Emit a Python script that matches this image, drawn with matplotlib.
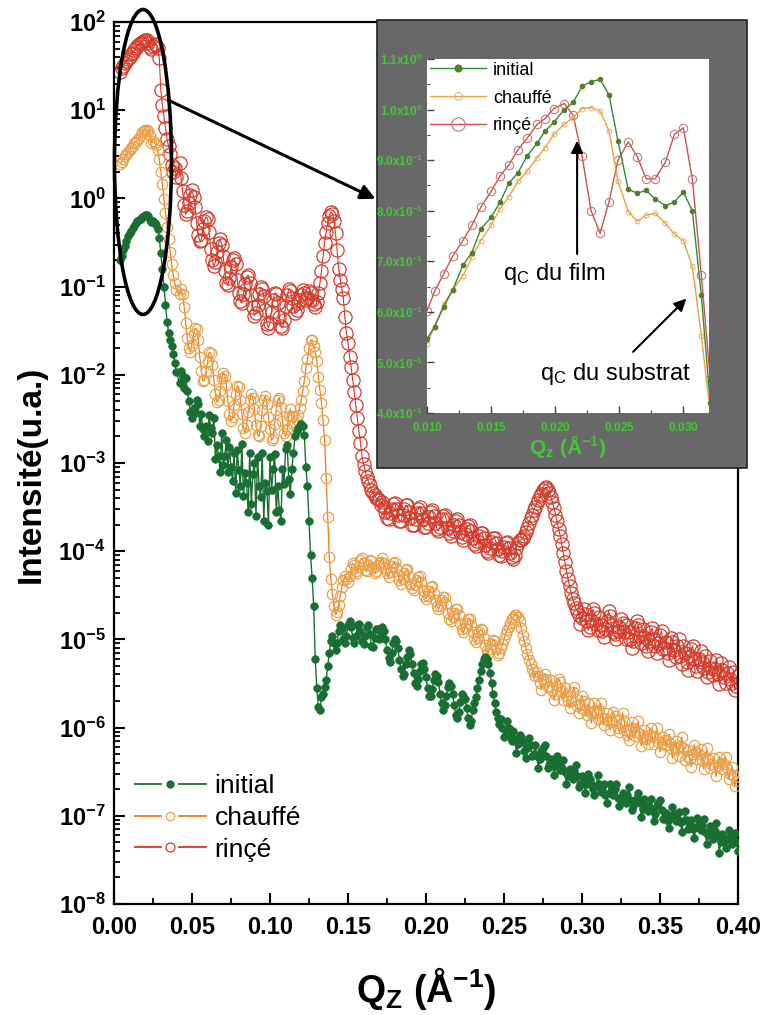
import numpy as np
import matplotlib
matplotlib.use("Agg")
import matplotlib.pyplot as plt
from matplotlib.patches import Ellipse, Rectangle, FancyArrowPatch
from matplotlib.lines import Line2D
from matplotlib.legend_handler import HandlerBase
from matplotlib.ticker import FixedLocator, FuncFormatter, MultipleLocator, LogLocator, NullFormatter

plt.rcParams['font.family'] = ['Liberation Sans', 'DejaVu Sans']
plt.rcParams['mathtext.fontset'] = 'custom'
plt.rcParams['mathtext.rm'] = 'Liberation Sans'
plt.rcParams['mathtext.bf'] = 'Liberation Sans:bold'
plt.rcParams['mathtext.it'] = 'Liberation Sans:italic'

# ---------------- main data (coarse grid) ----------------
qz = [0.004, 0.005, 0.006, 0.007, 0.008, 0.009, 0.010, 0.011, 0.012, 0.013, 0.014, 0.015, 0.016,
      0.017, 0.018, 0.019, 0.020, 0.021, 0.022, 0.023, 0.024, 0.025, 0.026, 0.027, 0.028, 0.029,
      0.030, 0.031, 0.032, 0.033, 0.034, 0.035, 0.036, 0.037, 0.038, 0.039, 0.040,
      0.042, 0.044, 0.046, 0.048, 0.050, 0.052, 0.054, 0.056, 0.058, 0.060, 0.062, 0.064, 0.066,
      0.068, 0.070, 0.072, 0.074, 0.076, 0.078, 0.080, 0.082, 0.084, 0.086, 0.088, 0.090, 0.092,
      0.094, 0.096, 0.098, 0.100, 0.102, 0.104, 0.106, 0.108, 0.110, 0.112, 0.114, 0.116, 0.118,
      0.119, 0.120, 0.121, 0.122, 0.123, 0.124, 0.125, 0.126, 0.127, 0.128, 0.129, 0.130, 0.131,
      0.132, 0.133, 0.134, 0.135, 0.136, 0.137, 0.138, 0.139, 0.140, 0.141, 0.142, 0.143, 0.144,
      0.145, 0.146, 0.147, 0.148, 0.149, 0.150, 0.151, 0.152, 0.153, 0.154, 0.155, 0.156, 0.157,
      0.158, 0.159, 0.160, 0.161, 0.162, 0.163, 0.164, 0.165, 0.166, 0.167, 0.168, 0.169, 0.170,
      0.172, 0.174, 0.176, 0.178, 0.180, 0.182, 0.184, 0.186, 0.188, 0.190, 0.192, 0.194, 0.196,
      0.198, 0.200, 0.202, 0.204, 0.206, 0.208, 0.210, 0.212, 0.214, 0.216, 0.218, 0.220, 0.222,
      0.224, 0.226, 0.228, 0.230, 0.232, 0.234, 0.236, 0.238, 0.240, 0.242, 0.244, 0.246, 0.248,
      0.250, 0.252, 0.254, 0.256, 0.258, 0.260, 0.262, 0.264, 0.266, 0.268, 0.270, 0.272, 0.274,
      0.276, 0.278, 0.280, 0.282, 0.284, 0.286, 0.288, 0.290, 0.292, 0.294, 0.296, 0.298, 0.300,
      0.302, 0.304, 0.306, 0.308, 0.310, 0.312, 0.314, 0.316, 0.318, 0.320, 0.322, 0.324, 0.326,
      0.328, 0.330, 0.332, 0.334, 0.336, 0.338, 0.340, 0.342, 0.344, 0.346, 0.348, 0.350, 0.352,
      0.354, 0.356, 0.358, 0.360, 0.362, 0.364, 0.366, 0.368, 0.370, 0.372, 0.374, 0.376, 0.378,
      0.380, 0.382, 0.384, 0.386, 0.388, 0.390, 0.392, 0.394, 0.396, 0.398, 0.400]

rince = [27, 30, 32, 34, 36, 38, 40, 43, 45, 48, 51, 54, 56, 58, 60, 61, 62, 62, 58, 52, 50, 54,
         57, 55, 51, 39, 17, 11.5, 8.5, 6.3, 4.7, 3.9, 3.2, 2.4, 2.0, 2.2, 1.75,
         2.5, 1.2, 0.66, 0.89, 1.25, 0.80, 0.38, 0.34, 0.56, 0.59, 0.27, 0.17, 0.25, 0.35, 0.22,
         0.11, 0.124, 0.20, 0.18, 0.084, 0.065, 0.106, 0.135, 0.080, 0.047, 0.062, 0.098, 0.078,
         0.038, 0.039, 0.070, 0.082, 0.045, 0.034, 0.060, 0.094, 0.075, 0.050, 0.066,
         0.071, 0.080, 0.092, 0.084, 0.071, 0.075, 0.088, 0.084, 0.071, 0.063, 0.059, 0.067, 0.084,
         0.11, 0.15, 0.22, 0.31, 0.42, 0.53, 0.63, 0.70, 0.67, 0.56, 0.40, 0.26, 0.16,
         0.12, 0.095, 0.075, 0.045, 0.030, 0.023, 0.016, 0.0123, 0.0087, 0.0063, 0.0045, 0.0032,
         0.0023, 0.0017, 0.0012, 9.7e-4, 8.2e-4, 6.9e-4, 6.2e-4, 5.6e-4, 5.0e-4, 4.6e-4, 4.3e-4,
         4.0e-4, 3.9e-4, 3.8e-4,
         3.6e-4, 2.8e-4, 2.3e-4, 3.0e-4, 3.5e-4, 2.6e-4, 2.2e-4, 3.0e-4, 3.3e-4, 2.4e-4, 2.0e-4,
         2.7e-4, 3.2e-4, 2.3e-4, 1.9e-4, 2.45e-4, 2.9e-4, 2.1e-4, 1.7e-4, 2.3e-4, 2.6e-4, 1.85e-4,
         1.5e-4, 2.0e-4, 2.3e-4, 1.65e-4, 1.35e-4, 1.8e-4, 2.0e-4, 1.4e-4, 1.15e-4, 1.5e-4, 1.6e-4,
         1.17e-4, 9.5e-5, 1.27e-4, 1.4e-4, 1.05e-4, 8.8e-5, 1.13e-4, 1.27e-4, 9.5e-5, 8.1e-5,
         1.09e-4, 1.33e-4, 1.4e-4, 1.65e-4, 2.1e-4, 2.6e-4, 3.2e-4, 3.8e-4, 4.5e-4, 5.2e-4, 5.0e-4,
         4.1e-4, 3.1e-4, 2.2e-4, 1.5e-4, 9.5e-5, 6.0e-5, 4.0e-5, 2.9e-5, 2.25e-5, 1.9e-5, 1.75e-5,
         1.95e-5, 1.27e-5, 1.65e-5, 2.0e-5, 1.27e-5, 1.47e-5, 1.07e-5, 1.6e-5, 1.85e-5, 1.2e-5,
         1.0e-5, 1.4e-5, 1.55e-5, 1.0e-5, 1.2e-5, 8.0e-6, 1.33e-5, 1.47e-5, 9.0e-6, 1.07e-5, 7.3e-6,
         1.2e-5, 1.0e-5, 7.1e-6, 1.13e-5, 7.8e-6, 9.3e-6, 5.8e-6, 9.3e-6, 6.3e-6, 1.0e-5, 5.2e-6,
         7.1e-6, 4.5e-6, 7.7e-6, 6.0e-6, 4.4e-6, 7.3e-6, 4.7e-6, 3.7e-6, 5.7e-6, 3.9e-6, 5.9e-6,
         3.1e-6, 4.5e-6, 3.2e-6, 4.9e-6, 3.2e-6, 2.7e-6, 3.8e-6]

chauffe = [2.45, 2.6, 2.8, 3.0, 3.15, 3.35, 3.5, 3.7, 3.9, 4.2, 4.35, 4.6, 4.9, 5.2, 5.6, 5.8, 6.0,
           6.0, 5.8, 5.2, 4.3, 4.45, 4.3, 4.0, 3.5, 2.8, 2.0, 1.45, 0.98, 0.69, 0.47, 0.35, 0.25,
           0.18, 0.135, 0.11, 0.092,
           0.083, 0.083, 0.039, 0.020, 0.022, 0.034, 0.025, 0.011, 0.0087, 0.0143, 0.0175, 0.0088,
           0.0049, 0.0065, 0.0106, 0.0077, 0.0036, 0.0033, 0.0061, 0.0072, 0.0036, 0.0022, 0.0038,
           0.0061, 0.0041, 0.0021, 0.0026, 0.0052, 0.0047, 0.0024, 0.0019, 0.0040, 0.0055, 0.0030,
           0.0020, 0.0034, 0.0034, 0.0029, 0.0035,
           0.0042, 0.0052, 0.0066, 0.0086, 0.012, 0.015, 0.020, 0.025, 0.0245, 0.021, 0.018, 0.0145,
           0.0095, 0.0067, 0.0048, 0.0031, 0.0018, 6.7e-4, 2.45e-4, 8.5e-5, 4.8e-5, 3.3e-5, 2.4e-5,
           1.9e-5, 2.05e-5, 2.45e-5, 3.1e-5, 3.9e-5, 4.7e-5, 5.2e-5, 4.9e-5, 4.5e-5, 5.2e-5, 6.3e-5,
           7.3e-5, 7.0e-5, 5.9e-5, 5.6e-5, 6.6e-5, 8.0e-5, 8.4e-5, 7.3e-5, 6.1e-5, 5.9e-5, 7.0e-5,
           8.0e-5, 7.7e-5, 6.4e-5, 5.6e-5, 6.0e-5, 7.0e-5, 7.3e-5,
           8.3e-5, 6.4e-5, 5.1e-5, 6.8e-5, 7.6e-5, 5.4e-5, 4.3e-5, 5.7e-5, 6.3e-5, 4.3e-5, 3.6e-5,
           4.7e-5, 5.2e-5, 3.6e-5, 2.9e-5, 3.5e-5, 4.0e-5, 2.8e-5, 2.2e-5, 2.8e-5, 3.0e-5, 2.0e-5,
           1.6e-5, 2.0e-5, 2.2e-5, 1.55e-5, 1.2e-5, 1.55e-5, 1.7e-5, 1.2e-5, 9.3e-6, 1.2e-5, 1.27e-5,
           8.6e-6, 7.0e-6, 8.9e-6, 9.6e-6, 6.6e-6, 7.9e-6, 1.0e-5, 1.27e-5, 1.55e-5, 1.8e-5, 1.9e-5,
           1.6e-5, 1.13e-5, 8.0e-6, 5.9e-6, 4.6e-6, 3.8e-6, 3.85e-6, 2.7e-6, 4.1e-6, 2.85e-6, 3.5e-6,
           2.05e-6, 2.95e-6, 3.3e-6, 2.05e-6, 2.3e-6, 1.65e-6, 2.55e-6, 2.1e-6, 1.45e-6, 2.3e-6,
           1.6e-6, 1.9e-6, 1.13e-6, 1.9e-6, 1.26e-6, 1.9e-6, 1.07e-6, 1.45e-6, 9.4e-7, 1.5e-6,
           1.22e-6, 8.8e-7, 1.47e-6, 9.4e-7, 7.3e-7, 1.15e-6, 8.1e-7, 1.18e-6, 6.2e-7, 9.3e-7, 6.5e-7,
           9.9e-7, 6.6e-7, 9.9e-7, 5.3e-7, 7.8e-7, 6.3e-7, 8.4e-7, 4.5e-7, 7.1e-7, 4.8e-7, 7.8e-7,
           4.3e-7, 5.6e-7, 3.6e-7, 6.4e-7, 4.4e-7, 5.7e-7, 3.4e-7, 5.8e-7, 3.5e-7, 4.5e-7, 2.8e-7,
           4.7e-7, 3.4e-7, 4.7e-7, 2.6e-7, 3.6e-7, 2.2e-7, 2.8e-7]

initial = [0.20, 0.22, 0.26, 0.29, 0.33, 0.37, 0.40, 0.43, 0.46, 0.49, 0.52, 0.55, 0.57, 0.59,
           0.61, 0.63, 0.64, 0.65, 0.63, 0.57, 0.54, 0.56, 0.53, 0.50, 0.45, 0.36, 0.24, 0.16,
           0.10, 0.062, 0.040, 0.030, 0.025, 0.021, 0.017, 0.0135, 0.0108,
           8.0e-3, 9.8e-3, 9.3e-3, 5.0e-3, 3.2e-3, 3.7e-3, 4.7e-3, 3.6e-3, 2.0e-3, 1.76e-3, 2.5e-3,
           3.2e-3, 1.6e-3, 7.9e-4, 9.4e-4, 1.8e-3, 1.5e-3, 6.3e-4, 4.6e-4, 8.3e-4, 1.66e-3, 7.7e-4,
           2.75e-4, 3.4e-4, 1.0e-3, 1.18e-3, 4.1e-4, 2.2e-4, 4.8e-4, 1.18e-3, 8.5e-4, 2.8e-4, 2.9e-4,
           8.5e-4, 1.45e-3, 6.6e-4, 8.5e-4, 2.0e-3, 2.5e-3,
           2.7e-3, 2.8e-3, 2.6e-3, 2.1e-3, 9.0e-4, 5.5e-4, 2.2e-4, 9.0e-5, 5.0e-5, 2.4e-5, 6.0e-6,
           2.8e-6, 1.7e-6, 1.6e-6, 2.2e-6, 2.4e-6, 2.9e-6, 3.5e-6, 5.0e-6, 7.0e-6, 9.5e-6, 1.1e-5,
           9.0e-6, 7.5e-6, 9.0e-6, 1.25e-5, 1.45e-5, 1.3e-5, 1.0e-5, 9.0e-6, 1.1e-5, 1.45e-5, 1.6e-5,
           1.4e-5, 1.05e-5, 9.0e-6, 1.1e-5, 1.45e-5, 1.5e-5, 1.25e-5, 9.5e-6, 8.8e-6, 1.1e-5, 1.4e-5,
           1.45e-5, 1.15e-5, 8.5e-6, 8.3e-6, 1.05e-5, 1.3e-5, 1.3e-5, 1.0e-5,
           1.38e-5, 1.0e-5, 6.2e-6, 7.1e-6, 1.0e-5, 7.9e-6, 4.6e-6, 4.1e-6, 6.3e-6, 6.9e-6, 4.2e-6,
           3.0e-6, 4.4e-6, 5.4e-6, 3.7e-6, 2.3e-6, 2.75e-6, 4.1e-6, 3.3e-6, 1.9e-6, 1.8e-6, 2.9e-6,
           3.0e-6, 1.8e-6, 1.3e-6, 1.95e-6, 2.3e-6, 1.66e-6, 1.07e-6, 1.6e-6, 2.2e-6, 3.5e-6, 5.2e-6,
           6.3e-6, 5.2e-6, 3.2e-6, 1.9e-6, 1.3e-6, 1.26e-6, 7.9e-7, 1.2e-6, 7.8e-7, 9.1e-7, 5.2e-7,
           8.3e-7, 6.8e-7, 4.5e-7, 7.6e-7, 4.8e-7, 6.3e-7, 3.5e-7, 5.5e-7, 6.3e-7, 3.5e-7, 4.4e-7,
           2.9e-7, 4.8e-7, 3.3e-7, 4.3e-7, 2.3e-7, 3.4e-7, 2.6e-7, 3.8e-7, 2.1e-7, 2.8e-7, 1.8e-7,
           3.0e-7, 2.3e-7, 1.74e-7, 2.9e-7, 1.86e-7, 2.3e-7, 1.38e-7, 2.3e-7, 1.74e-7, 2.3e-7, 1.29e-7,
           1.8e-7, 1.38e-7, 2.1e-7, 1.17e-7, 1.5e-7, 1.8e-7, 9.8e-8, 1.55e-7, 1.12e-7, 1.55e-7, 8.7e-8,
           1.29e-7, 1.5e-7, 9.1e-8, 1.07e-7, 7.2e-8, 1.26e-7, 8.7e-8, 1.1e-7, 6.6e-8, 1.12e-7, 7.1e-8,
           8.9e-8, 5.6e-8, 9.5e-8, 6.9e-8, 9.1e-8, 4.8e-8, 7.6e-8, 5.5e-8, 8.3e-8, 3.8e-8, 6.2e-8,
           4.3e-8, 6.9e-8, 4.8e-8, 6.3e-8, 4.0e-8]

# ---------------- extra (in-between) points of the noisy stretches ----------------
qz_mid = [0.043, 0.045, 0.047, 0.049, 0.051, 0.053, 0.055, 0.057, 0.059, 0.061, 0.063, 0.065,
          0.067, 0.069, 0.071, 0.073, 0.075, 0.077, 0.079, 0.081, 0.083, 0.085, 0.087, 0.089,
          0.091, 0.093, 0.095, 0.097, 0.099, 0.101, 0.103, 0.105, 0.107, 0.109, 0.111, 0.113,
          0.115, 0.117,
          0.171, 0.173, 0.175, 0.177, 0.179, 0.181, 0.183, 0.185, 0.187, 0.189, 0.191, 0.193,
          0.195, 0.197, 0.199, 0.201, 0.203, 0.205, 0.207, 0.209, 0.211, 0.213, 0.215, 0.217,
          0.219, 0.221, 0.223, 0.225, 0.227, 0.229, 0.231, 0.233, 0.235, 0.237, 0.239, 0.241,
          0.243, 0.245, 0.247, 0.249, 0.251, 0.253, 0.255, 0.257, 0.259, 0.261, 0.263, 0.265,
          0.267, 0.269, 0.271, 0.273, 0.275, 0.277, 0.279, 0.281, 0.283, 0.285, 0.287, 0.289,
          0.291, 0.293, 0.295, 0.297, 0.299, 0.301, 0.303, 0.305, 0.307, 0.309, 0.311, 0.313,
          0.315, 0.317, 0.319, 0.321, 0.323, 0.325, 0.327, 0.329, 0.331, 0.333, 0.335, 0.337,
          0.339, 0.341, 0.343, 0.345, 0.347, 0.349, 0.351, 0.353, 0.355, 0.357, 0.359, 0.361,
          0.363, 0.365, 0.367, 0.369, 0.371, 0.373, 0.375, 0.377, 0.379, 0.381, 0.383, 0.385,
          0.387, 0.389, 0.391, 0.393, 0.395, 0.397, 0.399]

rince_mid = [1.7, 0.85, 0.72, 1.1, 1.05, 0.52, 0.33, 0.45, 0.62, 0.42, 0.20, 0.19, 0.31, 0.30,
             0.15, 0.105, 0.165, 0.21, 0.12, 0.068, 0.082, 0.13, 0.11, 0.058, 0.050, 0.082, 0.095,
             0.055, 0.034, 0.052, 0.085, 0.065, 0.036, 0.042, 0.080, 0.090, 0.060, 0.055,
             3.3e-4, 3.2e-4, 2.4e-4, 2.7e-4, 3.4e-4, 3.0e-4, 2.2e-4, 2.6e-4, 3.3e-4, 2.8e-4,
             2.0e-4, 2.3e-4, 3.0e-4, 2.7e-4, 1.9e-4, 2.1e-4, 2.8e-4, 2.5e-4, 1.8e-4, 1.9e-4,
             2.5e-4, 2.3e-4, 1.6e-4, 1.7e-4, 2.2e-4, 2.0e-4, 1.45e-4, 1.55e-4, 1.95e-4, 1.7e-4,
             1.2e-4, 1.3e-4, 1.6e-4, 1.4e-4, 1.0e-4, 1.1e-4, 1.4e-4, 1.25e-4, 9.0e-5, 1.0e-4,
             1.25e-4, 1.1e-4, 8.5e-5, 9.0e-5, 1.25e-4, 1.35e-4, 1.5e-4, 1.85e-4, 2.35e-4, 2.9e-4,
             3.5e-4, 4.2e-4, 4.9e-4, 5.3e-4, 4.6e-4, 3.6e-4, 2.6e-4, 1.8e-4, 1.2e-4, 7.5e-5,
             4.9e-5, 3.4e-5, 2.6e-5, 2.1e-5, 1.5e-5, 2.2e-5, 1.6e-5, 1.4e-5, 2.2e-5, 1.5e-5,
             1.8e-5, 1.25e-5, 1.3e-5, 2.1e-5, 1.45e-5, 1.15e-5, 1.25e-5, 1.7e-5, 1.2e-5, 1.45e-5,
             1.0e-5, 9.5e-6, 1.6e-5, 1.1e-5, 1.3e-5, 8.5e-6, 9.5e-6, 1.35e-5, 8.5e-6, 9.0e-6,
             1.25e-5, 8.0e-6, 7.0e-6, 1.05e-5, 7.5e-6, 8.5e-6, 6.5e-6, 8.5e-6, 5.5e-6, 6.5e-6,
             8.5e-6, 5.0e-6, 6.0e-6, 5.5e-6, 6.5e-6, 4.3e-6, 4.8e-6, 4.6e-6, 4.0e-6, 5.4e-6,
             3.7e-6, 4.2e-6, 3.6e-6, 4.3e-6, 3.0e-6]

chauffe_mid = [0.095, 0.058, 0.026, 0.018, 0.029, 0.033, 0.016, 0.0085, 0.011, 0.018, 0.013,
               0.0060, 0.0052, 0.0092, 0.0098, 0.0050, 0.0030, 0.0046, 0.0075, 0.0052, 0.0025,
               0.0027, 0.0052, 0.0055, 0.0027, 0.0020, 0.0040, 0.0058, 0.0033, 0.0018, 0.0028,
               0.0052, 0.0043, 0.0022, 0.0024, 0.0041, 0.0028, 0.0031,
               7.6e-5, 7.4e-5, 5.6e-5, 5.8e-5, 7.3e-5, 6.5e-5, 4.7e-5, 4.9e-5, 6.1e-5, 5.3e-5,
               3.8e-5, 4.1e-5, 5.1e-5, 4.5e-5, 3.1e-5, 3.1e-5, 3.9e-5, 3.4e-5, 2.4e-5, 2.4e-5,
               3.0e-5, 2.5e-5, 1.7e-5, 1.8e-5, 2.2e-5, 1.9e-5, 1.3e-5, 1.35e-5, 1.7e-5, 1.45e-5,
               1.0e-5, 1.05e-5, 1.3e-5, 1.05e-5, 7.5e-6, 7.8e-6, 9.8e-6, 8.0e-6, 7.0e-6, 8.8e-6,
               1.15e-5, 1.4e-5, 1.7e-5, 1.9e-5, 1.8e-5, 1.35e-5, 9.5e-6, 6.8e-6, 5.2e-6, 4.3e-6,
               4.3e-6, 3.2e-6, 3.6e-6, 3.6e-6, 3.0e-6, 2.7e-6, 2.4e-6, 3.6e-6, 2.6e-6, 2.8e-6,
               2.0e-6, 2.0e-6, 2.9e-6, 1.75e-6, 1.8e-6, 2.0e-6, 1.4e-6, 1.5e-6, 1.5e-6, 1.45e-6,
               1.6e-6, 1.3e-6, 1.25e-6, 1.2e-6, 1.15e-6, 1.35e-6, 1.0e-6, 1.1e-6, 1.2e-6, 8.2e-7,
               9.5e-7, 9.8e-7, 9.0e-7, 8.5e-7, 8.0e-7, 7.5e-7, 8.2e-7, 8.0e-7, 7.8e-7, 6.8e-7,
               6.5e-7, 7.2e-7, 7.0e-7, 5.8e-7, 6.0e-7, 5.8e-7, 6.2e-7, 5.8e-7, 4.8e-7, 4.4e-7,
               5.0e-7, 5.3e-7, 5.0e-7, 4.3e-7, 4.5e-7, 4.4e-7, 3.9e-7, 3.6e-7, 3.7e-7, 4.0e-7,
               3.9e-7, 3.5e-7, 3.0e-7, 2.9e-7, 2.5e-7]

initial_mid = [1.1e-2, 7.0e-3, 6.5e-3, 3.8e-3, 4.2e-3, 5.2e-3, 2.6e-3, 2.4e-3, 2.6e-3, 3.5e-3,
               2.2e-3, 1.1e-3, 1.2e-3, 2.2e-3, 1.2e-3, 8.0e-4, 9.0e-4, 1.3e-3, 1.4e-3, 5.5e-4,
               4.2e-4, 6.0e-4, 1.3e-3, 7.5e-4, 2.5e-4, 5.5e-4, 1.3e-3, 6.0e-4, 2.0e-4, 5.0e-4,
               1.25e-3, 5.5e-4, 2.2e-4, 5.8e-4, 1.6e-3, 4.5e-4, 1.3e-3, 2.3e-3,
               1.1e-5, 1.25e-5, 7.5e-6, 5.5e-6, 9.0e-6, 9.5e-6, 5.8e-6, 3.8e-6, 5.2e-6, 7.5e-6,
               5.2e-6, 3.2e-6, 3.6e-6, 5.2e-6, 4.6e-6, 2.8e-6, 2.3e-6, 3.5e-6, 3.8e-6, 2.4e-6,
               1.6e-6, 2.3e-6, 3.2e-6, 2.4e-6, 1.4e-6, 1.5e-6, 2.4e-6, 2.1e-6, 1.3e-6, 1.2e-6,
               1.9e-6, 2.8e-6, 4.4e-6, 6.0e-6, 6.0e-6, 4.2e-6, 2.4e-6, 1.5e-6, 1.1e-6, 1.0e-6,
               9.5e-7, 1.0e-6, 7.0e-7, 7.5e-7, 6.5e-7, 7.8e-7, 5.5e-7, 5.8e-7, 6.3e-7, 5.0e-7,
               4.8e-7, 4.4e-7, 5.8e-7, 4.8e-7, 3.8e-7, 3.8e-7, 3.7e-7, 4.2e-7, 3.5e-7, 3.1e-7,
               2.8e-7, 2.9e-7, 3.2e-7, 2.8e-7, 2.3e-7, 2.4e-7, 2.3e-7, 2.6e-7, 2.0e-7, 2.2e-7,
               2.3e-7, 2.0e-7, 1.7e-7, 1.8e-7, 2.0e-7, 2.0e-7, 1.6e-7, 1.5e-7, 1.6e-7, 1.7e-7,
               1.5e-7, 1.3e-7, 1.6e-7, 1.4e-7, 1.2e-7, 1.3e-7, 1.3e-7, 1.15e-7, 1.05e-7, 1.4e-7,
               1.15e-7, 9.8e-8, 8.8e-8, 1.0e-7, 1.05e-7, 9.5e-8, 8.5e-8, 8.8e-8, 9.0e-8, 7.8e-8,
               7.0e-8, 7.5e-8, 8.0e-8, 7.8e-8, 6.5e-8, 6.0e-8, 6.5e-8, 6.8e-8, 6.0e-8, 5.0e-8,
               5.2e-8, 5.5e-8, 5.8e-8, 5.5e-8, 5.0e-8]

for name, arr, ref in (("rince", rince, qz), ("chauffe", chauffe, qz), ("initial", initial, qz),
                       ("rince_mid", rince_mid, qz_mid), ("chauffe_mid", chauffe_mid, qz_mid),
                       ("initial_mid", initial_mid, qz_mid)):
    if len(arr) != len(ref):
        raise ValueError(f"{name}: {len(arr)} values vs {len(ref)} positions")

# ---------------- inset data ----------------
qz_inset = [0.0100, 0.0106, 0.0113, 0.0120, 0.0128, 0.0135, 0.0142, 0.0150, 0.0157, 0.0164,
            0.0171, 0.0178, 0.0186, 0.0192, 0.0199, 0.0207, 0.0214, 0.0221, 0.0228, 0.0235,
            0.0242, 0.0249, 0.0257, 0.0264, 0.0271, 0.0278, 0.0286, 0.0293, 0.0300, 0.0307,
            0.0314, 0.0321]
initial_inset = [0.547, 0.571, 0.610, 0.643, 0.692, 0.717, 0.764, 0.787, 0.817, 0.855, 0.875,
                 0.908, 0.934, 0.957, 0.975, 1.000, 1.014, 1.046, 1.055, 1.060, 1.029, 0.938,
                 0.842, 0.835, 0.840, 0.823, 0.810, 0.817, 0.837, 0.800, 0.633, 0.419]
chauffe_inset = [0.537, 0.571, 0.615, 0.643, 0.671, 0.708, 0.741, 0.771, 0.804, 0.828, 0.858,
                 0.878, 0.905, 0.924, 0.951, 0.971, 0.984, 1.002, 1.004, 0.997, 0.958, 0.858,
                 0.798, 0.779, 0.791, 0.795, 0.775, 0.754, 0.741, 0.690, 0.553, 0.400]
rince_inset = [0.602, 0.641, 0.675, 0.710, 0.741, 0.771, 0.807, 0.838, 0.869, 0.891, 0.921,
               0.943, 0.971, 0.982, 1.002, 1.012, 0.989, 0.908, 0.800, 0.755, 0.818, 0.900,
               0.936, 0.907, 0.863, 0.863, 0.896, 0.951, 0.964, 0.863, 0.673, 0.467]

labels = ["initial", "chauffé", "rinçé"]
x_ticks = [0.00, 0.05, 0.10, 0.15, 0.20, 0.25, 0.30, 0.35, 0.40]
inset_x_ticks = [0.010, 0.015, 0.020, 0.025, 0.030]
inset_y_ticks = [0.4, 0.5, 0.6, 0.7, 0.8, 0.9, 1.0, 1.1]


def merged(main_vals, mid_vals):
    xs = np.array(qz + qz_mid)
    ys = np.array(main_vals + mid_vals)
    order = np.argsort(xs, kind='stable')
    return xs[order], ys[order]


# ---------------- figure ----------------
W, H = 761, 1015
fig = plt.figure(figsize=(W / 100, H / 100), dpi=100)

def fx(px):
    return px / W

def fy(py):
    return 1 - py / H

ax = fig.add_axes([fx(114), fy(904), fx(738) - fx(114), fy(22) - fy(904)])
ax.set_zorder(0)

green = '#1b6e33'
orange_edge, orange_line = '#e8a24e', '#f07c22'
red_edge, red_line = '#d23c2c', '#d8342a'

xr, yr = merged(rince, rince_mid)
xc, yc = merged(chauffe, chauffe_mid)
xi, yi = merged(initial, initial_mid)
ax.plot(xr, yr, color=red_line, lw=0.8, marker='o', ms=9.5, mfc='none',
        mec=red_edge, mew=0.9, zorder=2)
ax.plot(xc, yc, color=orange_line, lw=0.9, marker='o', ms=7.5, mfc='none',
        mec=orange_edge, mew=0.9, zorder=3)
ax.plot(xi, yi, color=green, lw=1.0, marker='o', ms=5.5, mfc=green,
        mec=green, mew=0.5, zorder=4)

ax.set_yscale('log')
ax.set_xlim(0, 0.40)
ax.set_ylim(1e-8, 1e2)
ax.xaxis.set_major_locator(FixedLocator(x_ticks))
ax.xaxis.set_minor_locator(MultipleLocator(0.025))
ax.xaxis.set_major_formatter(FuncFormatter(lambda v, p: f"{v:.2f}"))
ax.yaxis.set_major_locator(LogLocator(base=10, numticks=20))
ax.yaxis.set_minor_locator(LogLocator(base=10, subs=np.arange(2, 10), numticks=20))
ax.yaxis.set_minor_formatter(NullFormatter())
ax.yaxis.set_major_formatter(FuncFormatter(
    lambda v, p: r'$\mathbf{10^{%d}}$' % int(round(np.log10(v)))))
ax.tick_params(axis='both', which='major', direction='in', length=8, width=1.5,
               labelsize=17, pad=6)
ax.tick_params(axis='both', which='minor', direction='in', length=4.5, width=1.3)
ax.tick_params(axis='x', which='major', pad=9)
for lab in ax.get_xticklabels():
    lab.set_fontweight('bold')
for s in ax.spines.values():
    s.set_linewidth(1.6)

ax.set_xlabel('Q$_\\mathbf{Z}$ (Å$^{\\mathbf{-1}}$)', fontsize=27, fontweight='bold', labelpad=18)
ax.set_ylabel('Intensité(u.a.)', fontsize=24, fontweight='bold')
ax.yaxis.set_label_coords(-0.107, 0.4875)


class BrokenLineHandler(HandlerBase):
    """Legend entry drawn as  ——  o  ——  (line interrupted around the marker)."""
    def create_artists(self, legend, orig, xdescent, ydescent, width, height, fontsize, trans):
        y = height / 2 - ydescent
        x0 = -xdescent
        x1 = x0 + width
        xm = (x0 + x1) / 2
        gap = 0.13 * width
        kw = dict(color=orig.get_color(), lw=1.3)
        l1 = Line2D([x0, xm - gap], [y, y], **kw)
        l2 = Line2D([xm + gap, x1], [y, y], **kw)
        m = Line2D([xm], [y], linestyle='none', marker='o', ms=orig.get_markersize(),
                   mfc=orig.get_markerfacecolor(), mec=orig.get_markeredgecolor(),
                   mew=orig.get_markeredgewidth())
        for a in (l1, l2, m):
            a.set_transform(trans)
        return [l1, l2, m]


handles = [Line2D([], [], color=green, marker='o', ms=5, mfc=green, mec=green),
           Line2D([], [], color=orange_line, marker='o', ms=6, mfc='none', mec=orange_edge, mew=0.9),
           Line2D([], [], color=red_line, marker='o', ms=6.5, mfc='none', mec=red_edge, mew=0.9)]
ax.legend(handles, labels, handler_map={Line2D: BrokenLineHandler()},
          loc='lower left', bbox_to_anchor=(0.033, 0.048), frameon=False, fontsize=19,
          handlelength=2.7, handletextpad=0.33, labelspacing=0.3, borderpad=0,
          borderaxespad=0)

# ellipse + arrow (figure coordinates)
ell = Ellipse((fx(143), fy(162)), 57 / W, 305 / H, transform=fig.transFigure,
              fill=False, edgecolor='black', lw=2.6, zorder=1.5)
fig.patches.append(ell)
arr = FancyArrowPatch((fx(168), fy(100)), (fx(378), fy(200)), transform=fig.transFigure,
                      arrowstyle='-|>', mutation_scale=22, color='black', lw=2.2, zorder=1.6)
fig.patches.append(arr)

# gray inset frame
rect = Rectangle((fx(377), fy(468)), (747 - 377) / W, (468 - 20) / H, transform=fig.transFigure,
                 facecolor='#686868', edgecolor='#202020', lw=1.2, zorder=1.8)
fig.patches.append(rect)

# ---------------- inset ----------------
ins_green = '#46c43a'
axi = fig.add_axes([fx(427), fy(413), fx(709) - fx(427), fy(59) - fy(413)])
axi.set_zorder(2)
axi.set_facecolor('white')
ii, = axi.plot(qz_inset, initial_inset, color='#2f8a3a', lw=1.0, marker='o', ms=3,
               mfc='#5b7a2a', mec='#5b7a2a', zorder=3)
ic, = axi.plot(qz_inset, chauffe_inset, color='#f0a040', lw=1.0, marker='o', ms=3.5,
               mfc='none', mec='#dcb070', mew=0.7, zorder=2)
ir, = axi.plot(qz_inset, rince_inset, color='#d05048', lw=1.0, marker='o', ms=6,
               mfc='none', mec='#c07878', mew=0.8, zorder=1)
axi.set_xlim(0.010, 0.032)
axi.set_ylim(0.4, 1.1)
axi.xaxis.set_major_locator(FixedLocator(inset_x_ticks))
axi.xaxis.set_minor_locator(MultipleLocator(0.0025))
axi.yaxis.set_major_locator(FixedLocator(inset_y_ticks))
axi.yaxis.set_minor_locator(MultipleLocator(0.05))
axi.xaxis.set_major_formatter(FuncFormatter(lambda v, p: r'$\mathbf{%.3f}$' % v))

def inset_fmt(v, p):
    e = int(np.floor(np.log10(v) + 1e-9))
    return r'$\mathbf{%.1fx10^{%d}}$' % (v / 10 ** e, e)

axi.yaxis.set_major_formatter(FuncFormatter(inset_fmt))
axi.tick_params(axis='both', which='major', direction='in', length=5, width=1.0,
                color='#444444', labelcolor=ins_green, labelsize=8.5, pad=3)
axi.tick_params(axis='x', which='major', pad=6)
axi.tick_params(axis='both', which='minor', direction='in', length=2.5, width=0.8,
                color='#444444')
for s in axi.spines.values():
    s.set_visible(False)
axi.set_xlabel('Q$_\\mathbf{z}$ (Å$^{\\mathbf{-1}}$)', fontsize=15, fontweight='bold',
               color=ins_green, labelpad=0)

axi.legend([ii, ic, ir], labels, loc='upper left', frameon=False, fontsize=13,
           handlelength=3.1, handletextpad=0.4, labelspacing=0.6, borderpad=0.15,
           borderaxespad=0, markerscale=1.6)

axi.annotate('', xy=(0.02171, 0.944), xytext=(0.02171, 0.709),
             arrowprops=dict(arrowstyle='-|>', color='black', lw=1.5, mutation_scale=18))
axi.text(0.0199, 0.675, 'q$_{\\mathrm{C}}$ du film', fontsize=17, ha='center', va='center')
axi.annotate('', xy=(0.03039, 0.630), xytext=(0.02592, 0.517),
             arrowprops=dict(arrowstyle='-|>', color='black', lw=1.5, mutation_scale=18))
axi.text(0.02474, 0.4775, 'q$_{\\mathrm{C}}$ du substrat', fontsize=17, ha='center', va='center')

fig.savefig('out.png', dpi=100)
